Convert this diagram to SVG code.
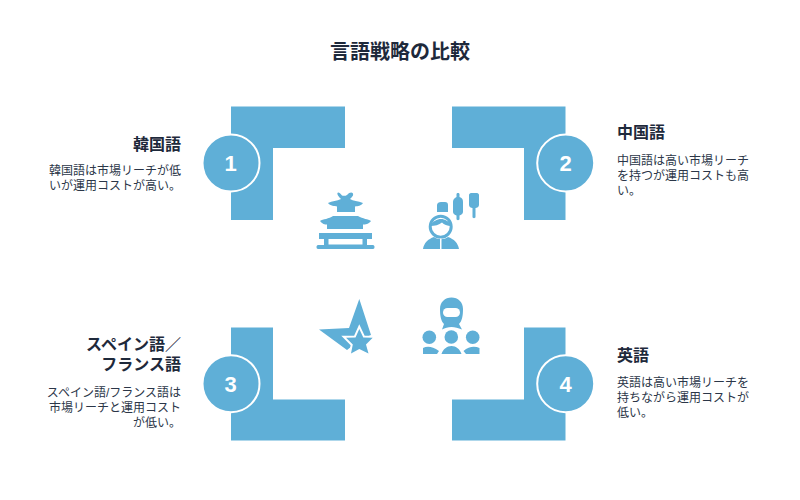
<svg xmlns="http://www.w3.org/2000/svg" width="800" height="500" viewBox="0 0 800 500">
<style>
.b{fill:#5fafd7}
.t{font-family:"Liberation Sans","Noto Sans CJK JP",sans-serif;fill:#1e293b}
.title{font-size:20px;font-weight:700;text-anchor:middle}
.h{font-size:16px;font-weight:700}
.d{font-size:12px;fill:#2b3648}
.e{text-anchor:end}
.n{font-family:"Liberation Sans",sans-serif;font-size:22px;font-weight:700;fill:#fff;text-anchor:middle}
.c{fill:#5fafd7;stroke:#fff;stroke-width:2}
.w{fill:#fff}
</style>
<rect width="800" height="500" fill="#fff"/>
<text class="t title" x="400" y="59">言語戦略の比較</text>
<g id="node1">
<path class="b" d="M231 106.500H345V148H273V220H231Z"/>
<circle class="c" cx="231" cy="163" r="28.500"/>
<text class="n" x="230.500" y="171">1</text>
<text class="t h e" x="181" y="149.500">韓国語</text>
<text class="t d e" x="181" y="175">韓国語は市場リーチが低</text>
<text class="t d e" x="181" y="190">いが運用コストが高い。</text>
<path class="b" d="M342 195.500C339 191 336 192 338 195.500C339 197 340 198 341 199C337 201 332 201 328 203C330 206 335 206 337 206.500L337 212H355V206.500C358 206 361 206 363 203C358 201 353 201 350 199C351 198 352 197 353 195.500C354 192 350 191 347 195C346 196 343 196 342 195.500ZM320 221C323 219 329 219 333 216H358C363 219 368 219 371 221C369 224 365 224.500 363 224.500V229H327V224.500C325 224.500 322 224 320 221ZM319 233H372V239H367V245H373C375 245 375 249 373 249H318C316 249 316 245 318 245H324V239H319ZM328.500 239V244.500H362.500V239Z" fill-rule="evenodd"/>
</g>
<g id="node2">
<path class="b" d="M452 106.500H565.500V220H524V148H452Z"/>
<circle class="c" cx="565.700" cy="163" r="28.500"/>
<text class="n" x="565.700" y="171">2</text>
<text class="t h" x="617" y="138">中国語</text>
<text class="t d" x="617" y="165">中国語は高い市場リーチ</text>
<text class="t d" x="617" y="180">を持つが運用コストも高</text>
<text class="t d" x="617" y="195">い。</text>
<path class="b" d="M437 212V205C437 203 439 202 441 202H445C447 202 448 203 448 205V212ZM456.500 194C456.500 192.500 459.500 192.500 459.500 194V197C462 198 463 199 463 202V212C463 214 461 215 459.500 215.500V219C459.500 220.500 456.500 220.500 456.500 219V215.500C455 215 453 214 453 212V202C453 199 455 198 456.500 197ZM469 195C469 194 470 193 471 193H477C478 193 479 194 479 195V205C479 207 477 208 475.500 208V217C475.500 218.500 472.500 218.500 472.500 217V208C471 208 469 207 469 205Z"/>
<circle cx="440.700" cy="226.700" r="10.500" fill="#fff" stroke="#5fafd7" stroke-width="3"/>
<path class="b" d="M430 226C433 221 437 219 441 219C445 219 449 221 451.500 226C447 226 444 224.500 442 222.500C439 225 435 226 430 226Z"/>
<path class="b" d="M423 249C424 243 428 239 434 237C438 240 444 240 448 237C454 239 458 243 459 249Z"/>
<rect class="w" x="440" y="238.500" width="1.500" height="10.500"/>
</g>
<g id="node3">
<path class="b" d="M231 327.500H273V399.500H345V440.500H231Z"/>
<circle class="c" cx="231" cy="383.700" r="28.500"/>
<text class="n" x="230.500" y="391.700">3</text>
<text class="t h e" x="181" y="349.500">スペイン語／</text>
<text class="t h e" x="181" y="369.500">フランス語</text>
<text class="t d e" x="181" y="397">スペイン語/フランス語は</text>
<text class="t d e" x="181" y="412">市場リーチと運用コスト</text>
<text class="t d e" x="181" y="427">が低い。</text>
<path class="b" d="M359.300 299L371 335L360 340L347 350L319 329.500L349 328Z"/>
<path class="b" stroke="#fff" stroke-width="4" paint-order="stroke" stroke-linejoin="miter" d="M359.300 329L363.300 337.500L372.700 337.700L366 344.500L368.500 353.500L359.300 349L351 353.500L352.800 344.500L346 337.700L355.500 337.500Z"/>
</g>
<g id="node4">
<path class="b" d="M524 327.500H565.500V440.500H452V399.500H524Z"/>
<circle class="c" cx="565.700" cy="383.700" r="28.500"/>
<text class="n" x="565.700" y="391.700">4</text>
<text class="t h" x="617" y="360.500">英語</text>
<text class="t d" x="617" y="387">英語は高い市場リーチを</text>
<text class="t d" x="617" y="402">持ちながら運用コストが</text>
<text class="t d" x="617" y="417">低い。</text>
<path class="b" d="M440 309C440 302 445 297.500 451.500 297.500C458 297.500 463 302 463 309C463 316 462 321 459 324L462 329.500C458 328 455 327 451.500 327C448 327 445 328 442 329.500L444 324C441 321 440 316 440 309Z"/>
<rect class="w" x="443" y="308" width="17" height="9" rx="4.500"/>
<circle class="b" cx="429.300" cy="337.300" r="6.800"/>
<circle class="b" cx="451.300" cy="337" r="6.800"/>
<circle class="b" cx="472.700" cy="337.300" r="6.800"/>
<path class="b" d="M423 354V348C427 346 432 346 439 351L437 354ZM441.500 354C443 349 447 346 451.500 346C456 346 460 349 461.500 354ZM466 354L463.500 351C469 346 475 346 479.500 348V354Z"/>
</g>
</svg>
